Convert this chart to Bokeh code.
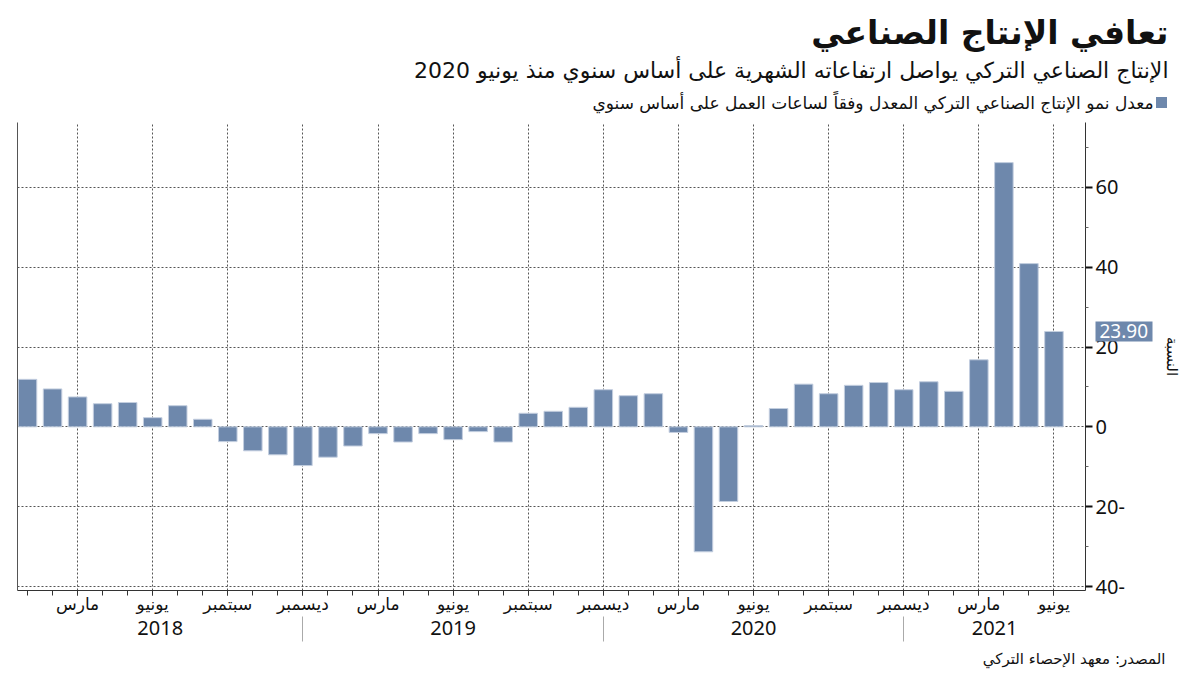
from bokeh.plotting import figure
from bokeh.layouts import column
from bokeh.models import Range1d, LinearAxis, FixedTicker, ColumnDataSource
from bokeh.core.properties import value
from bokeh.embed import file_html
from bokeh.resources import INLINE

# ---------------- data ----------------
months = [f"{y}-{m:02d}" for y in range(2018, 2022) for m in range(1, 13)][:42]
growth = [11.9, 9.5, 7.5, 5.8, 6.1, 2.3, 5.3, 1.9, -3.7, -6.0, -7.0, -9.7,
          -7.6, -4.8, -1.7, -3.8, -1.7, -3.2, -1.2, -3.8, 3.4, 3.9, 4.9, 9.3,
          7.8, 8.3, -1.4, -31.3, -18.7, 0.3, 4.6, 10.7, 8.3, 10.4, 11.1, 9.3,
          11.3, 8.9, 16.8, 66.2, 40.9, 23.9]
month_names = {3: "مارس", 6: "يونيو", 9: "سبتمبر", 12: "ديسمبر"}
years = ["2018", "2019", "2020", "2021"]
y_ticks = [-40, -20, 0, 20, 40, 60]
y_tick_labels = ["40-", "20-", "0", "20", "40", "60"]
y_minor = [-30, -10, 10, 30, 50, 70]
latest_label = "23.90"

title = "تعافي الإنتاج الصناعي"
subtitle = "الإنتاج الصناعي التركي يواصل ارتفاعاته الشهرية على أساس سنوي منذ يونيو 2020"
legend_text = "معدل نمو الإنتاج الصناعي التركي المعدل وفقاً لساعات العمل على أساس سنوي"
source_text = "المصدر: معهد الإحصاء التركي"
y_label = "النسبة"

BAR = "#6E88AC"
AR_FONT = "DejaVu Sans"
NUM_FONT = "Noto Sans"
W = 1192

# ---------------- derived ----------------
idx = list(range(len(months)))
month_num = [int(m[5:]) for m in months]
quarter_idx = [i for i, m in zip(idx, month_num) if m in month_names]
month_overrides = {i: month_names[month_num[i]] for i in quarter_idx}
separators = [i for i, m in zip(idx, month_num) if m == 12]

x_start, x_end = -0.4, 42.26
bounds = [x_start] + separators + [x_end]
year_centers = [(bounds[k] + bounds[k + 1]) / 2 for k in range(len(years))]
year_overrides = {c: y for c, y in zip(year_centers, years)}


def blank_fig(h):
    f = figure(width=W, height=h, x_range=Range1d(0, W), y_range=Range1d(h, 0),
               output_backend="svg", toolbar_location=None,
               x_axis_location=None, y_axis_location=None,
               min_border_left=0, min_border_right=0, min_border_top=0,
               min_border_bottom=0)
    f.outline_line_color = None
    f.xgrid.visible = False
    f.ygrid.visible = False
    return f


# ---------------- header (y = pixels from top) ----------------
HH = 122
head = blank_fig(HH)
head.text(x=[1168], y=[32], text=[title], text_align="right", text_baseline="middle",
          text_font=value(AR_FONT), text_font_size="33px", text_font_style="bold",
          text_color="#111111")
head.text(x=[1168], y=[70], text=[subtitle], text_align="right", text_baseline="middle",
          text_font=value(AR_FONT), text_font_size="22px", text_color="#111111")
head.scatter(x=[1161], y=[102], marker="square", size=11, fill_color=BAR,
             line_color=None)
head.text(x=[1153], y=[102], text=[legend_text], text_align="right",
          text_baseline="middle", text_font=value(AR_FONT), text_font_size="17px",
          text_color="#111111")

# ---------------- main chart ----------------
src = ColumnDataSource(dict(x=idx, v=growth))
MB = 58
MH = 468 + MB
p = figure(width=W, height=MH, x_range=Range1d(x_start, x_end),
           y_range=Range1d(-41, 76.25), output_backend="svg",
           toolbar_location=None, y_axis_location="right",
           min_border_left=17, min_border_right=W - 1085, min_border_top=0,
           min_border_bottom=MB)
p.outline_line_color = None

p.vbar(x="x", top="v", width=0.74, source=src, fill_color=BAR,
       line_color="#c3cedf", line_width=1)

# y axis (right)
ya = p.yaxis[0]
ya.ticker = FixedTicker(ticks=y_ticks, minor_ticks=y_minor)
ya.major_label_overrides = {t: l for t, l in zip(y_ticks, y_tick_labels)}
ya.major_tick_in = 0
ya.major_tick_out = 7
ya.major_tick_line_width = 2
ya.major_tick_line_color = "#111111"
ya.minor_tick_in = 0
ya.minor_tick_out = 3
ya.minor_tick_line_color = "#666666"
ya.axis_line_color = "#333333"
ya.major_label_text_font = NUM_FONT
ya.major_label_text_font_size = "20px"
ya.major_label_text_color = "#111111"
ya.major_label_standoff = 3

# latest value tag + axis title, drawn by a second right axis
tag = LinearAxis(ticker=FixedTicker(ticks=[growth[-1]], minor_ticks=[]),
                 major_label_overrides={growth[-1]: latest_label},
                 major_tick_in=32, major_tick_out=25, major_tick_line_width=20,
                 major_tick_line_color=BAR, major_tick_line_cap="butt",
                 axis_line_color=None, major_label_standoff=-53,
                 major_label_text_font=NUM_FONT, major_label_text_font_size="19px",
                 major_label_text_color="white",
                 axis_label=y_label, axis_label_text_font=AR_FONT,
                 axis_label_text_font_size="15px", axis_label_text_font_style="normal",
                 axis_label_text_color="#111111", axis_label_standoff=12)
p.add_layout(tag, "right")

# left frame line
la = LinearAxis(ticker=FixedTicker(ticks=[], minor_ticks=[]),
                major_tick_out=0, minor_tick_out=0, major_tick_in=0, minor_tick_in=0,
                major_label_standoff=0, axis_line_color="#555555")
p.add_layout(la, "left")

# month axis
mt = FixedTicker(ticks=quarter_idx, minor_ticks=idx)
xa = p.xaxis[0]
xa.ticker = mt
xa.major_label_overrides = month_overrides
xa.major_tick_in = 0
xa.major_tick_out = 5
xa.minor_tick_in = 0
xa.minor_tick_out = 5
xa.axis_line_color = "#333333"
xa.major_tick_line_color = "#333333"
xa.minor_tick_line_color = "#333333"
xa.major_label_text_font = AR_FONT
xa.major_label_text_font_size = "17px"
xa.major_label_text_color = "#111111"
xa.major_label_standoff = -2

# year axis
ya2 = LinearAxis(ticker=FixedTicker(ticks=year_centers, minor_ticks=separators),
                 major_label_overrides=year_overrides,
                 major_tick_line_color=None, major_tick_out=0, major_tick_in=0,
                 minor_tick_in=0, minor_tick_out=25, minor_tick_line_color="#aaaaaa",
                 axis_line_color=None, major_label_text_font=NUM_FONT,
                 major_label_text_font_size="20px", major_label_text_color="#111111",
                 major_label_standoff=-21)
p.add_layout(ya2, "below")

# grids
p.xgrid.ticker = mt
p.ygrid.ticker = FixedTicker(ticks=y_ticks)
for g in (p.xgrid[0], p.ygrid[0]):
    g.grid_line_color = "#555555"
    g.grid_line_dash = "2 2"
    g.grid_line_width = 1

# ---------------- footer ----------------
FH = 25
foot = blank_fig(FH)
foot.text(x=[1165], y=[10], text=[source_text], text_align="right",
          text_baseline="middle", text_font=value(AR_FONT), text_font_size="15px",
          text_color="#111111")

layout = column(column(head), p, column(foot), spacing=0)
open("out.html", "w").write(file_html(layout, INLINE))
